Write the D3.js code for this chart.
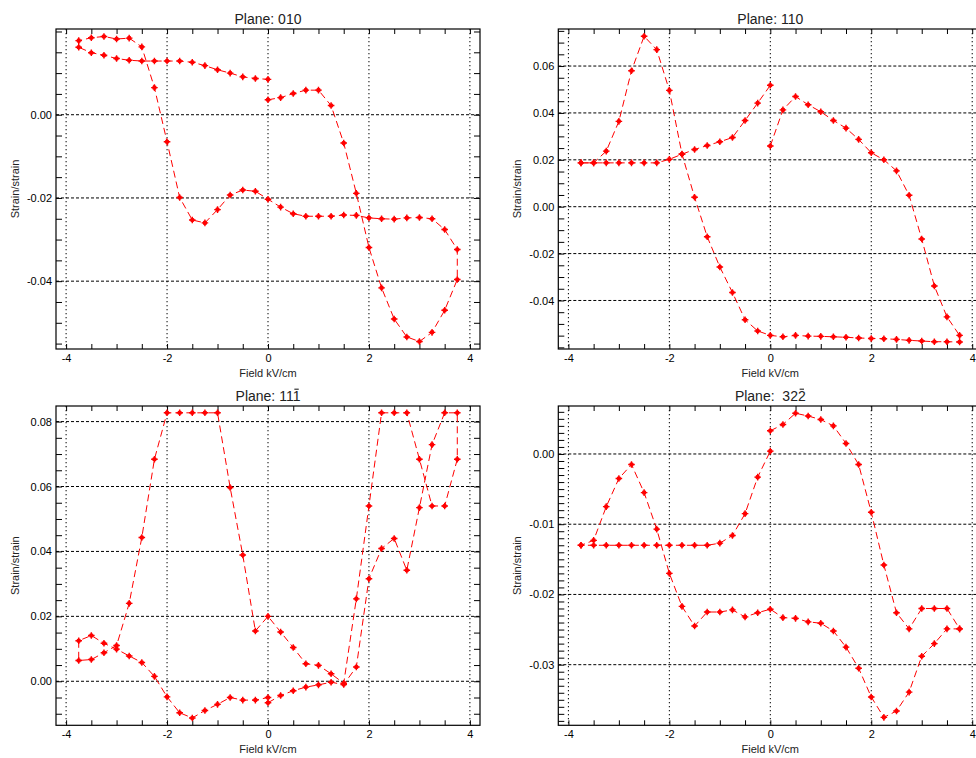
<!DOCTYPE html>
<html><head><meta charset="utf-8">
<script src="https://cdn.jsdelivr.net/npm/d3@7/dist/d3.min.js"></script>
<style>html,body{margin:0;padding:0;background:#fff;overflow:hidden}</style>
</head><body><svg id="c" width="976" height="758"></svg>
<script>
// ---------- DATA ----------
// field sweep (kV/cm): 0 -> +3.75 -> 0 -> -3.75 -> 0
const fieldSweep = [
  0,0.25,0.5,0.75,1,1.25,1.5,1.75,2,2.25,2.5,2.75,3,3.25,3.5,3.75,
  3.75,3.5,3.25,3,2.75,2.5,2.25,2,1.75,1.5,1.25,1,0.75,0.5,0.25,0,
  -0.25,-0.5,-0.75,-1,-1.25,-1.5,-1.75,-2,-2.25,-2.5,-2.75,-3,-3.25,-3.5,-3.75,
  -3.75,-3.5,-3.25,-3,-2.75,-2.5,-2.25,-2,-1.75,-1.5,-1.25,-1,-0.75,-0.5,-0.25,0
];
const strain010 = [
  0.0036,0.0041,0.0051,0.0059,0.0059,0.0022,-0.0068,-0.0189,-0.0319,-0.0416,-0.0491,-0.0534,-0.0545,-0.0523,-0.0470,-0.0396,
  -0.0324,-0.0276,-0.0250,-0.0247,-0.0248,-0.0251,-0.0250,-0.0248,-0.0242,-0.0241,-0.0244,-0.0244,-0.0244,-0.0238,-0.0222,-0.0203,
  -0.0184,-0.0181,-0.0193,-0.0228,-0.0260,-0.0253,-0.0199,-0.0065,0.0065,0.0163,0.0184,0.0182,0.0188,0.0185,0.0178,
  0.0162,0.0149,0.0143,0.0135,0.0131,0.0129,0.0129,0.0129,0.0129,0.0126,0.0118,0.0108,0.0100,0.0091,0.0087,0.0085
];
const strain110 = [
  0.0259,0.0413,0.0470,0.0435,0.0405,0.0368,0.0335,0.0287,0.0230,0.0200,0.0153,0.0049,-0.0138,-0.0338,-0.0470,-0.0549,
  -0.0577,-0.0576,-0.0576,-0.0573,-0.0570,-0.0566,-0.0563,-0.0562,-0.0560,-0.0557,-0.0555,-0.0553,-0.0552,-0.0549,-0.0555,-0.0549,
  -0.0530,-0.0482,-0.0366,-0.0257,-0.0128,0.0040,0.0225,0.0496,0.0670,0.0727,0.0580,0.0364,0.0237,0.0187,0.0187,
  0.0187,0.0187,0.0187,0.0187,0.0187,0.0187,0.0187,0.0202,0.0224,0.0244,0.0261,0.0277,0.0295,0.0368,0.0442,0.0518
];
const strain11m1 = [
  -0.0066,-0.0044,-0.0029,-0.0018,-0.0011,-0.0003,-0.0010,0.0044,0.0316,0.0409,0.0440,0.0342,0.0535,0.0729,0.0827,0.0827,
  0.0684,0.0540,0.0540,0.0684,0.0827,0.0827,0.0827,0.0540,0.0254,-0.0006,0.0023,0.0049,0.0054,0.0104,0.0152,0.0200,
  0.0155,0.0389,0.0597,0.0827,0.0827,0.0827,0.0827,0.0827,0.0684,0.0443,0.0240,0.0110,0.0088,0.0067,0.0064,
  0.0125,0.0141,0.0117,0.0099,0.0078,0.0058,0.0015,-0.0048,-0.0097,-0.0113,-0.0090,-0.0071,-0.0050,-0.0058,-0.0058,-0.0050
];
const strain32m2 = [
  0.0033,0.0042,0.0058,0.0054,0.0049,0.0040,0.0015,-0.0015,-0.0083,-0.0158,-0.0226,-0.0249,-0.0220,-0.0220,-0.0220,-0.0249,
  -0.0249,-0.0249,-0.0270,-0.0288,-0.0339,-0.0366,-0.0375,-0.0346,-0.0305,-0.0275,-0.0252,-0.0241,-0.0239,-0.0234,-0.0233,-0.0221,
  -0.0226,-0.0232,-0.0222,-0.0225,-0.0225,-0.0245,-0.0217,-0.0170,-0.0107,-0.0055,-0.0015,-0.0035,-0.0075,-0.0123,-0.0130,
  -0.0130,-0.0130,-0.0130,-0.0130,-0.0130,-0.0130,-0.0130,-0.0130,-0.0130,-0.0130,-0.0130,-0.0127,-0.0116,-0.0085,-0.0033,0.0004
];
// titles: [text, index of character carrying an overbar (or -1)]
const titles = [["Plane: 010", -1], ["Plane: 110", -1], ["Plane: 111", 9], ["Plane:  322", 10]];
const xLabel = "Field kV/cm";
const yLabel = "Strain/strain";
const xRange = [-4.2, 4.2];
const xMajorTicks = [-4, -2, 0, 2, 4];
const xMinorStep = 0.5;
const yRange010 = [-0.0563, 0.0206];
const yRange110 = [-0.0607, 0.0758];
const yRange11m1 = [-0.01356, 0.0848];
const yRange32m2 = [-0.03863, 0.00683];
const yTicks010 = [0, -0.02, -0.04];
const yTicks110 = [-0.04, -0.02, 0, 0.02, 0.04, 0.06];
const yTicks11m1 = [0, 0.02, 0.04, 0.06, 0.08];
const yTicks32m2 = [0, -0.01, -0.02, -0.03];
const yMinor = [0.005, 0.005, 0.005, 0.001];

// ---------- LAYOUT ----------
const panels = [
  {title: titles[0], y: strain010, yr: yRange010, yt: yTicks010, ym: yMinor[0], left: 56,    top: 29,  w: 424, h: 320},
  {title: titles[1], y: strain110, yr: yRange110, yt: yTicks110, ym: yMinor[1], left: 558.3, top: 29,  w: 424, h: 320},
  {title: titles[2], y: strain11m1, yr: yRange11m1, yt: yTicks11m1, ym: yMinor[2], left: 56,    top: 406, w: 424, h: 319.3},
  {title: titles[3], y: strain32m2, yr: yRange32m2, yt: yTicks32m2, ym: yMinor[3], left: 558.3, top: 406, w: 424, h: 319.3}
];
const FONT = "'Liberation Sans', Arial, Helvetica, sans-serif";
const RED = "#ff0000";
const hy = s => String(s).replace("\u2212", "-");
const svg = d3.select("#c");
svg.append("rect").attr("width", 976).attr("height", 758).attr("fill", "#fff");

panels.forEach(p => {
  const g = svg.append("g").attr("transform", `translate(${p.left},${p.top})`);
  const x = d3.scaleLinear().domain(xRange).range([0, p.w]);
  const y = d3.scaleLinear().domain(p.yr).range([p.h, 0]);

  // grid
  g.selectAll("line.vg").data(xMajorTicks).join("line")
    .attr("x1", d => x(d)).attr("x2", d => x(d)).attr("y1", 0).attr("y2", p.h)
    .attr("stroke", "#000").attr("stroke-width", 1).attr("stroke-dasharray", "1.3,2.7");
  g.selectAll("line.hg").data(p.yt).join("line")
    .attr("x1", 0).attr("x2", p.w).attr("y1", d => y(d)).attr("y2", d => y(d))
    .attr("stroke", "#000").attr("stroke-width", 1).attr("stroke-dasharray", "3,2");

  // minor ticks
  const xMinorTicks = d3.range(xMajorTicks[0], xMajorTicks[xMajorTicks.length - 1] + 1e-9, xMinorStep);
  const lo = Math.ceil(p.yr[0] / p.ym - 1e-9) * p.ym;
  const yMinorTicks = d3.range(lo, p.yr[1], p.ym).map(v => +v.toFixed(5));

  const axStyle = sel => {
    sel.select(".domain").remove();
    sel.selectAll(".tick line").attr("stroke", "#000").attr("stroke-width", 1);
    sel.selectAll(".tick text").attr("font-family", FONT).attr("font-size", 11).attr("fill", "#000");
  };
  g.append("g").attr("transform", `translate(0,${p.h})`)
    .call(d3.axisBottom(x).tickValues(xMinorTicks).tickSize(-5).tickFormat(""))
    .call(axStyle);
  g.append("g")
    .call(d3.axisTop(x).tickValues(xMinorTicks).tickSize(-5).tickFormat(""))
    .call(axStyle);
  g.append("g").attr("transform", `translate(0,${p.h})`)
    .call(d3.axisBottom(x).tickValues(xMajorTicks).tickSize(0).tickPadding(5).tickFormat(d => hy(d3.format("d")(d))))
    .call(axStyle);
  g.append("g")
    .call(d3.axisLeft(y).tickValues(yMinorTicks).tickSize(-6).tickFormat(""))
    .call(axStyle);
  g.append("g").attr("transform", `translate(${p.w},0)`)
    .call(d3.axisRight(y).tickValues(yMinorTicks).tickSize(-6).tickFormat(""))
    .call(axStyle);
  g.append("g")
    .call(d3.axisLeft(y).tickValues(p.yt).tickSize(0).tickPadding(4).tickFormat(d => hy(d3.format(".2f")(d))))
    .call(axStyle);

  // frame
  g.append("rect").attr("x", 0).attr("y", 0).attr("width", p.w).attr("height", p.h)
    .attr("fill", "none").attr("stroke", "#000").attr("stroke-width", 1.2);

  // data
  const pts = fieldSweep.map((f, i) => [f, p.y[i]]);
  g.append("path").datum(pts)
    .attr("d", d3.line().x(d => x(d[0])).y(d => y(d[1])))
    .attr("fill", "none").attr("stroke", RED).attr("stroke-width", 1)
    .attr("stroke-dasharray", "7,4");
  const mk = g.selectAll("g.mk").data(pts).join("g")
    .attr("transform", d => `translate(${x(d[0])},${y(d[1])})`);
  mk.append("circle").attr("r", 2.3).attr("fill", RED);
  mk.append("path").attr("d", "M-3.3,0H3.3M0,-3.3V3.3").attr("stroke", RED).attr("stroke-width", 1.4);

  // titles
  const t = g.append("text").attr("x", x(0)).attr("y", -5).attr("text-anchor", "middle")
    .attr("font-family", FONT).attr("font-size", 14).attr("fill", "#222")
    .style("white-space", "pre").attr("xml:space", "preserve").text(p.title[0]);
  if (p.title[1] >= 0) {
    const ext = t.node().getExtentOfChar(p.title[1]);
    const cx = ext.x + ext.width / 2;
    g.append("line").attr("x1", cx - 2.2).attr("x2", cx + 2.2)
      .attr("y1", -5 - 11.8).attr("y2", -5 - 11.8)
      .attr("stroke", "#222").attr("stroke-width", 1.1);
  }
  g.append("text").attr("x", x(0)).attr("y", p.h + 28).attr("text-anchor", "middle")
    .attr("font-family", FONT).attr("font-size", 11).attr("fill", "#222").text(xLabel);
  g.append("text").attr("transform", `translate(-37,${p.h / 2}) rotate(-90)`).attr("text-anchor", "middle")
    .attr("font-family", FONT).attr("font-size", 11).attr("fill", "#222").text(yLabel);
});
</script></body></html>
